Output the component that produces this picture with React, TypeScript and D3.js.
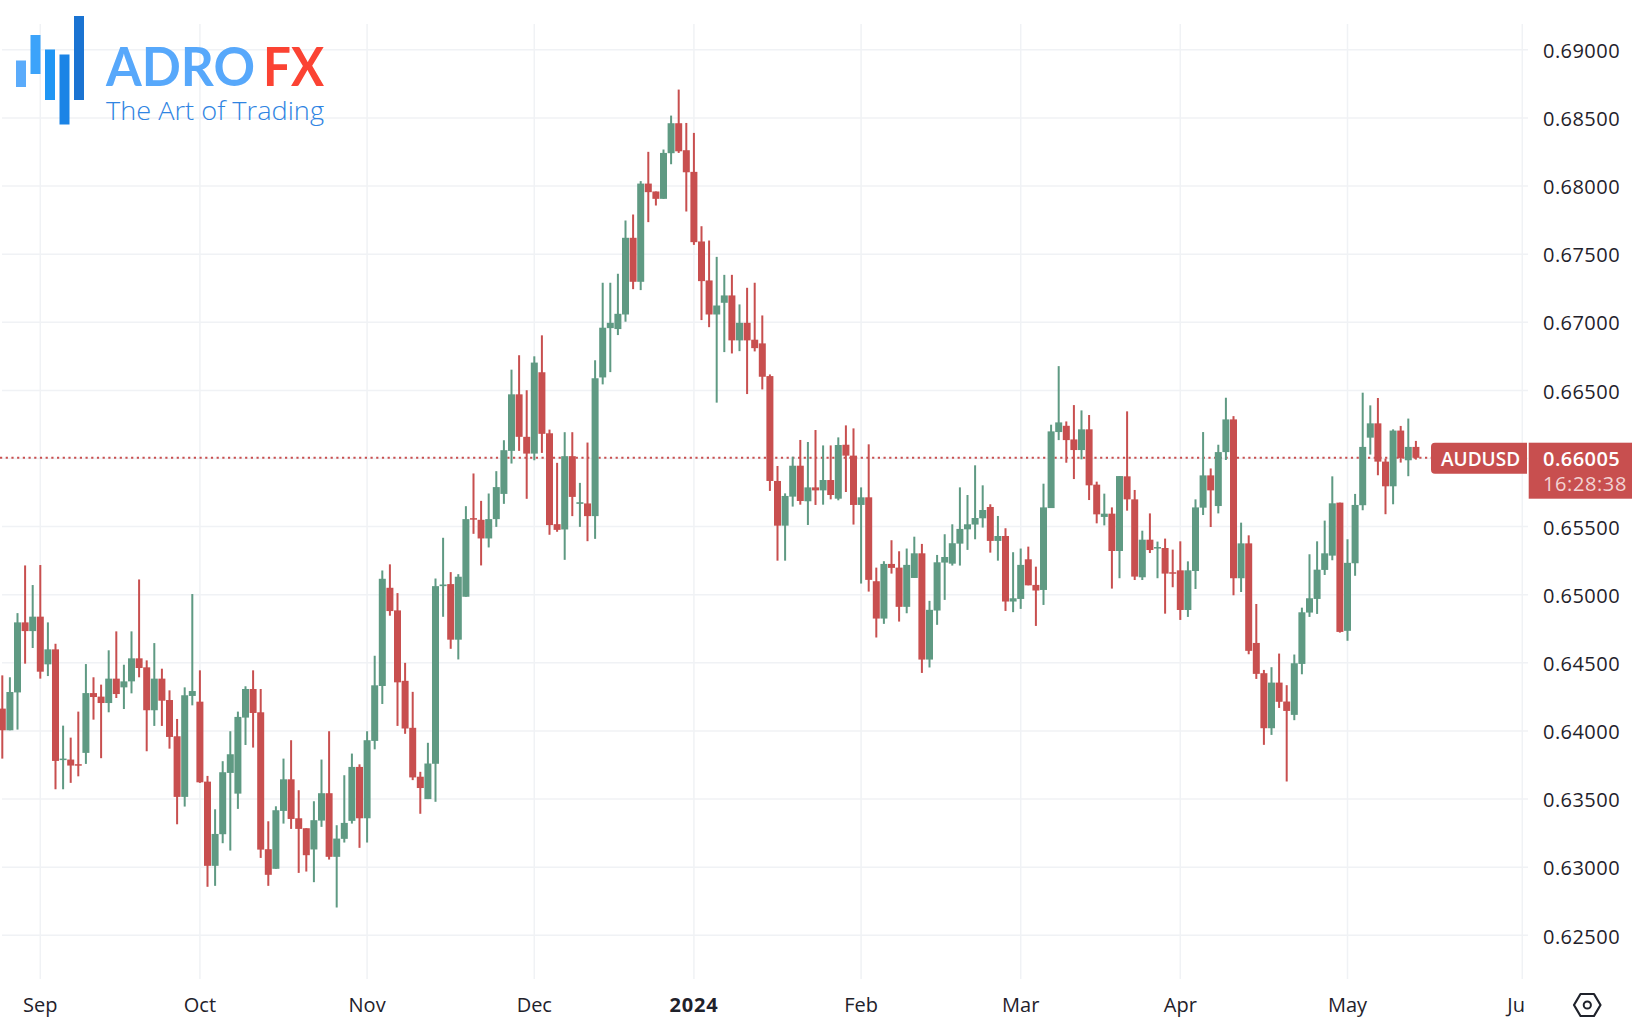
import React from "react";
import * as d3 from "d3";

// daily AUDUSD candles
const opens = [
  0.64164,0.64005,0.64283,0.64797,0.64733,0.64839,0.64489,0.64599,0.63787,0.6379,0.63756,0.63839,0.64278,0.64252,0.64205,0.64384,0.6432,0.64364,0.64533,0.64467,
  0.64152,0.64384,0.64227,0.63961,0.63516,0.64257,0.64215,0.63628,0.6301,0.63242,0.63692,0.6354,0.64098,0.64308,0.64137,0.63132,0.62988,0.63413,0.63645,0.63359,
  0.63286,0.6313,0.63342,0.63543,0.63076,0.63208,0.6334,0.63736,0.63359,0.63927,0.6433,0.65051,0.64885,0.64368,0.64023,0.63664,0.635,0.63759,0.65063,0.65078,
  0.6467,0.64985,0.65562,0.6555,0.65413,0.65555,0.6574,0.66056,0.66471,0.66159,0.66036,0.66633,0.66185,0.65518,0.65479,0.66017,0.65667,0.6567,0.65577,0.66595,
  0.66957,0.6695,0.67057,0.6762,0.67297,0.68018,0.6796,0.67906,0.68241,0.68461,0.68263,0.68104,0.67593,0.67307,0.67057,0.67143,0.67197,0.66867,0.66996,0.66872,
  0.66845,0.66605,0.65835,0.65507,0.6572,0.65947,0.65686,0.65788,0.65766,0.65842,0.65705,0.66101,0.66021,0.65659,0.65715,0.65099,0.64825,0.65226,0.65199,0.64911,
  0.65123,0.65304,0.64524,0.64884,0.65236,0.65228,0.65375,0.6548,0.65515,0.65561,0.65644,0.65395,0.65431,0.6495,0.64969,0.6526,0.65072,0.65035,0.65636,0.66194,
  0.6624,0.6614,0.66062,0.66214,0.65808,0.65571,0.65595,0.65321,0.65869,0.657,0.65128,0.65404,0.65341,0.65343,0.65165,0.65179,0.64888,0.65174,0.65639,0.65876,
  0.65651,0.66047,0.66287,0.65121,0.65377,0.64646,0.64424,0.6402,0.64355,0.64216,0.64118,0.64492,0.64869,0.64969,0.65182,0.65287,0.65676,0.64735,0.65231,0.65657,
  0.66153,0.66258,0.65977,0.65796,0.66205,0.65987,0.66085,
];
const closes = [
  0.64005,0.64286,0.64797,0.64733,0.64839,0.64435,0.64599,0.6378,0.63797,0.63746,0.63746,0.64278,0.64249,0.64205,0.64384,0.64271,0.64364,0.64533,0.64462,0.64152,
  0.64384,0.64222,0.63956,0.63516,0.64262,0.64293,0.63623,0.6301,0.63244,0.63697,0.63829,0.64103,0.64308,0.64132,0.63129,0.62944,0.63418,0.63645,0.63354,0.63281,
  0.63088,0.63345,0.63543,0.63076,0.6321,0.63325,0.63736,0.63359,0.63932,0.64335,0.65117,0.6488,0.64357,0.64018,0.63659,0.63581,0.63761,0.65063,0.65075,0.6467,
  0.65132,0.65555,0.65552,0.65413,0.65555,0.6579,0.66061,0.66471,0.66159,0.66036,0.66704,0.66181,0.65511,0.65476,0.66017,0.65718,0.65679,0.65577,0.66589,0.6696,
  0.66996,0.67062,0.6762,0.67297,0.68018,0.67955,0.67906,0.68243,0.68461,0.68255,0.68101,0.67588,0.67302,0.67057,0.67123,0.67197,0.66867,0.66996,0.66867,0.6681,
  0.666,0.65835,0.65507,0.65725,0.65947,0.65688,0.65788,0.65766,0.65842,0.65732,0.66099,0.66021,0.65659,0.65715,0.65109,0.64825,0.65226,0.65197,0.64911,0.65219,
  0.65304,0.64524,0.64889,0.65238,0.65277,0.65378,0.65483,0.65517,0.65563,0.65622,0.65395,0.65431,0.6495,0.64974,0.65219,0.65069,0.65031,0.65641,0.66199,0.66265,
  0.66135,0.66062,0.66214,0.65803,0.6559,0.65595,0.65321,0.65871,0.657,0.65133,0.65404,0.65328,0.6535,0.65155,0.65155,0.64888,0.65179,0.65641,0.65876,0.65766,
  0.66047,0.66287,0.65121,0.65377,0.64588,0.64419,0.6402,0.64355,0.64214,0.64147,0.64497,0.64871,0.64974,0.65184,0.65304,0.65671,0.64727,0.65234,0.65659,0.66085,
  0.66258,0.65977,0.65796,0.66205,0.66004,0.66085,0.66005,
];
const highs = [
  0.64408,0.64394,0.64865,0.65215,0.65071,0.65218,0.64797,0.6464,0.64039,0.63951,0.64142,0.64491,0.64394,0.6434,0.64592,0.64731,0.64486,0.64731,0.65112,0.64518,
  0.64645,0.64457,0.64298,0.64088,0.6432,0.65005,0.64445,0.6367,0.63425,0.63778,0.63998,0.64142,0.64328,0.64445,0.64308,0.63337,0.63447,0.63797,0.63932,0.63565,
  0.63286,0.63484,0.6379,0.63998,0.63308,0.63675,0.63834,0.63755,0.63998,0.64552,0.65178,0.65223,0.65012,0.645,0.64287,0.637,0.63913,0.65119,0.65418,0.65166,
  0.65151,0.6565,0.6589,0.65689,0.65743,0.65907,0.66134,0.66652,0.66758,0.66501,0.6675,0.66904,0.66212,0.65968,0.66193,0.66193,0.65821,0.66117,0.66721,0.6729,
  0.6729,0.67356,0.67747,0.67791,0.68036,0.68251,0.6796,0.68268,0.68517,0.68708,0.68463,0.6839,0.67705,0.676,0.6748,0.67348,0.67348,0.67131,0.67253,0.6729,
  0.6705,0.66617,0.65945,0.65744,0.66013,0.66136,0.66121,0.66209,0.66096,0.66096,0.66155,0.66243,0.66221,0.65788,0.66104,0.65199,0.65246,0.654,0.65319,0.65339,
  0.65426,0.65373,0.64955,0.65292,0.65444,0.65517,0.65788,0.65732,0.6595,0.65803,0.65664,0.65578,0.65488,0.65312,0.65339,0.65353,0.65206,0.65815,0.66248,0.66678,
  0.66272,0.66392,0.66353,0.66319,0.6583,0.65742,0.65641,0.65871,0.66346,0.65769,0.6547,0.65597,0.6539,0.65412,0.65331,0.65392,0.65245,0.657,0.66194,0.65927,
  0.66101,0.66446,0.66311,0.65529,0.65436,0.64932,0.64448,0.64468,0.64568,0.64336,0.64561,0.64905,0.65297,0.65392,0.65544,0.65869,0.65676,0.65407,0.6574,0.66483,
  0.6639,0.66444,0.65999,0.66214,0.66239,0.66293,0.66129,
];
const lows = [
  0.63797,0.64005,0.6401,0.64494,0.64609,0.64384,0.64403,0.63572,0.63572,0.63619,0.63667,0.63758,0.64083,0.638,0.64137,0.64242,0.64161,0.64276,0.64394,0.63851,
  0.64037,0.64037,0.6387,0.63315,0.63445,0.64188,0.63619,0.62856,0.62863,0.63176,0.63122,0.63428,0.63897,0.63878,0.63068,0.62863,0.62988,0.6332,0.63281,0.62958,
  0.62968,0.6289,0.63296,0.63056,0.62704,0.63181,0.6332,0.63142,0.63181,0.63865,0.64198,0.64846,0.64037,0.63979,0.63639,0.63392,0.635,0.6348,0.64838,0.64603,
  0.64525,0.64985,0.65447,0.65215,0.65347,0.65498,0.65667,0.65963,0.66056,0.65704,0.65987,0.66041,0.6544,0.65462,0.65256,0.65577,0.65498,0.65393,0.6541,0.66544,
  0.66634,0.66906,0.67004,0.67243,0.67236,0.67735,0.67857,0.67906,0.6816,0.68243,0.67813,0.67568,0.67016,0.66964,0.6641,0.66781,0.66771,0.66788,0.66473,0.66786,
  0.66507,0.65762,0.6525,0.6525,0.65647,0.65661,0.65512,0.65659,0.65661,0.657,0.65693,0.65754,0.65515,0.65082,0.65023,0.64686,0.64786,0.65155,0.64803,0.64864,
  0.65123,0.64426,0.64466,0.64779,0.64962,0.65214,0.65214,0.65329,0.65407,0.65493,0.65309,0.6525,0.64881,0.64872,0.64896,0.65069,0.64771,0.64925,0.66005,0.66135,
  0.65969,0.65849,0.65994,0.65695,0.65524,0.65509,0.65045,0.65121,0.65617,0.65108,0.65108,0.65306,0.65121,0.64861,0.65055,0.64815,0.64837,0.65042,0.65585,0.65497,
  0.65597,0.65989,0.64996,0.6502,0.64563,0.64382,0.63898,0.63971,0.64169,0.63629,0.64079,0.64416,0.64837,0.64859,0.65145,0.65253,0.64722,0.64662,0.65139,0.6562,
  0.66029,0.65877,0.65591,0.65664,0.6597,0.6587,0.65992,
];

const gridPrices = [0.625,0.63,0.635,0.64,0.645,0.65,0.655,0.66,0.665,0.67,0.675,0.68,0.685,0.69];
const monthIndex = [5, 26, 48, 70, 91, 113, 134, 155, 177, 200];
const monthLabels = ["Sep", "Oct", "Nov", "Dec", "2024", "Feb", "Mar", "Apr", "May", "Jun"];
const lastPrice = 0.66005;

const UP = "#5f9a83";
const DOWN = "#c84f4f";
const GRID = "#f0f2f5";
const TEXT = "#1f222b";
const FONT = "'Open Sans', sans-serif";

const x = d3.scaleLinear().domain([0, 186]).range([2.3, 1415.9]);
const y = d3.scaleLinear().domain([0.625, 0.69]).range([935.3, 49.8]);

// the logo is not chart data
const logoBars = [
  { x: 16, y: 60.5, w: 10, h: 26.5, c: "#5aabfb" },
  { x: 30.5, y: 35, w: 10, h: 39, c: "#3ca3fa" },
  { x: 45, y: 49.5, w: 10, h: 50.5, c: "#1f96f4" },
  { x: 59.5, y: 54.5, w: 10, h: 70, c: "#1b84e6" },
  { x: 74, y: 16, w: 10, h: 84, c: "#1a73d2" },
];

export default function App() {
  const lastY = y(lastPrice);
  const hexagon = d3.line()([
    [1574, 1005],
    [1580.5, 994],
    [1594, 994],
    [1600.5, 1005],
    [1594, 1016],
    [1580.5, 1016],
  ]) + "Z";

  return (
    <svg
      width={1632}
      height={1030}
      style={{ position: "absolute", left: 0, top: 0, display: "block", background: "#fff", fontFamily: FONT }}
    >
      <defs>
        <clipPath id="pane">
          <rect x={0} y={0} width={1528} height={1030} />
        </clipPath>
        <clipPath id="timeAxis">
          <rect x={0} y={980} width={1525.8} height={50} />
        </clipPath>
      </defs>

      {gridPrices.map((t) => (
        <line key={t} x1={2} x2={1528} y1={y(t)} y2={y(t)} stroke={GRID} strokeWidth={1.5} />
      ))}
      {monthIndex.map((m) => (
        <line key={m} x1={x(m)} x2={x(m)} y1={24} y2={979} stroke={GRID} strokeWidth={1.5} />
      ))}

      {logoBars.map((b) => (
        <rect key={b.x} x={b.x} y={b.y} width={b.w} height={b.h} fill={b.c} />
      ))}
      <text x={106} y={86} fontFamily="Lato, sans-serif" fontWeight={700} fontSize={54} fill="#57a8fb" textLength={149} lengthAdjust="spacingAndGlyphs">
        ADRO
      </text>
      <text x={263} y={86} fontFamily="Lato, sans-serif" fontWeight={700} fontSize={54} fill="#fb4333" textLength={61} lengthAdjust="spacingAndGlyphs">
        FX
      </text>
      <text x={106} y={120} fontWeight={300} fontSize={26} fill="#2f84e2" textLength={218} lengthAdjust="spacingAndGlyphs">
        The Art of Trading
      </text>

      <line x1={0} x2={1431} y1={lastY} y2={lastY} stroke={DOWN} strokeWidth={2} strokeDasharray="2.2 3.5" />

      <g clipPath="url(#pane)">
        {opens.map((o, i) => {
          const c = closes[i];
          const color = c >= o ? UP : DOWN;
          const top = y(Math.max(o, c));
          const bottom = y(Math.min(o, c));
          return (
            <g key={i} fill={color}>
              <rect x={x(i) - 1} y={y(highs[i])} width={2} height={y(lows[i]) - y(highs[i])} />
              <rect x={x(i) - 3.5} y={top} width={7} height={Math.max(1.5, bottom - top)} />
            </g>
          );
        })}
      </g>

      {gridPrices.filter((t) => t !== 0.66).map((t) => (
        <text key={t} x={1543} y={y(t)} dy="0.41em" fontSize={20} letterSpacing={0.45} fill={TEXT}>
          {d3.format(".5f")(t)}
        </text>
      ))}

      <path
        d="M1527 442.7H1435a4 4 0 0 0 -4 4V469.7a4 4 0 0 0 4 4H1527Z"
        fill={DOWN}
      />
      <text x={1441} y={459} dy="0.36em" fontSize={19} fill="#fff" fontWeight={600}>
        AUDUSD
      </text>
      <rect x={1528.7} y={442.7} width={103.3} height={56} fill={DOWN} />
      <text x={1543} y={459} dy="0.36em" fontSize={20} letterSpacing={0.45} fontWeight={600} fill="#fff">
        {d3.format(".5f")(lastPrice)}
      </text>
      <text x={1543} y={484} dy="0.36em" fontSize={20} letterSpacing={0.6} fill="#f2d3d3">
        16:28:38
      </text>

      <g clipPath="url(#timeAxis)">
        {monthIndex.map((m, i) => (
          <text
            key={m}
            x={x(m)}
            y={1012}
            textAnchor="middle"
            fontSize={20}
            letterSpacing={monthLabels[i] === "2024" ? 0.8 : 0}
            fontWeight={monthLabels[i] === "2024" ? 700 : 400}
            fill={TEXT}
          >
            {monthLabels[i]}
          </text>
        ))}
      </g>

      <path d={hexagon} fill="none" stroke={TEXT} strokeWidth={2.2} strokeLinejoin="round" />
      <circle cx={1587.3} cy={1005} r={3.6} fill="none" stroke={TEXT} strokeWidth={2} />
    </svg>
  );
}
